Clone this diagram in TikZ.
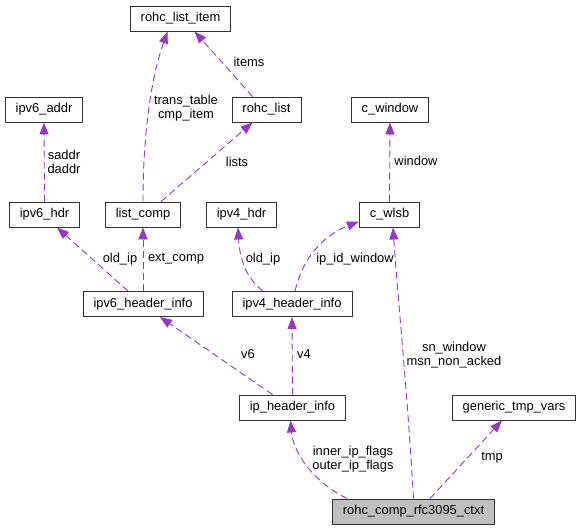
\documentclass[tikz,border=0pt]{standalone}
\usepackage{fontspec}
\setmainfont{Liberation Sans}
\usetikzlibrary{arrows.meta}
\definecolor{refpurple}{HTML}{9A32CD}
\definecolor{ctxgray}{HTML}{BFBFBF}

\tikzset{
  cls/.style={draw=black!80, line width=0.9pt, minimum height=25pt, inner xsep=10.5pt, inner ysep=2pt, font=\fontsize{12.9}{14}\selectfont},
  ref/.style={draw=refpurple, line width=0.9pt, dash pattern=on 7pt off 4pt, -{Triangle[length=12pt,width=9pt]}, fill=none},
  lbl/.style={font=\fontsize{12.9}{14}\selectfont, align=center, inner sep=0pt}
}

\begin{document}
\begin{tikzpicture}[x=1pt, y=-1pt]
    \useasboundingbox (0,0) rectangle (582,531);

    \node[cls] (rli) at (180.5,18.5) {rohc\_list\_item};
    \node[cls] (v6a) at (44,109.5) {ipv6\_addr};
    \node[cls] (rl) at (266.5,109.5) {rohc\_list};
    \node[cls] (cwin) at (390,109.5) {c\_window};
    \node[cls] (v6h) at (44.5,214.5) {ipv6\_hdr};
    \node[cls] (lc) at (143,214.5) {list\_comp};
    \node[cls] (v4h) at (241.5,214.5) {ipv4\_hdr};
    \node[cls] (cw) at (389.5,214.5) {c\_wlsb};
    \node[cls] (v6i) at (143,304) {ipv6\_header\_info};
    \node[cls] (v4i) at (292,304) {ipv4\_header\_info};
    \node[cls] (ihi) at (292.5,407.5) {ip\_header\_info};
    \node[cls] (gtv) at (514,407.5) {generic\_tmp\_vars};
    \node[cls, fill=ctxgray] (ctx) at (413.5,511.5) {rohc\_comp\_rfc3095\_ctxt};

    \draw[ref] (lc.north) .. controls (143,130) and (152,75) .. ([xshift=-13pt]rli.south)
        node[lbl] at (186,108) {trans\_table\\cmp\_item};
    \draw[ref] ([xshift=-14pt]rl.north) -- ([xshift=14pt]rli.south)
        node[lbl] at (249,62) {items};
    \draw[ref] ([xshift=18pt]lc.north) -- ([xshift=-14pt]rl.south)
        node[lbl] at (237,162) {lists};
    \draw[ref] (v6h.north) -- (v6a.south)
        node[lbl] at (64,162) {saddr\\daddr};
    \draw[ref] (cw.north) -- (cwin.south)
        node[lbl] at (416,161) {window};

    \draw[ref] ([xshift=-15pt]v6i.north) -- ([xshift=12.5pt]v6h.south)
        node[lbl] at (120,259) {old\_ip};
    \draw[ref] (v6i.north) -- (lc.south)
        node[lbl] at (176,259) {ext\_comp};
    \draw[ref] ([xshift=-29pt]v4i.north) .. controls (250,281) and (240,265) .. ([xshift=-3.5pt]v4h.south)
        node[lbl] at (263,259) {old\_ip};
    \draw[ref] ([xshift=3pt]v4i.north) .. controls (305,250) and (330,233) .. ([yshift=-7pt]cw.west)
        node[lbl] at (355,259) {ip\_id\_window};

    \draw[ref] ([xshift=-20pt]ihi.north) -- ([xshift=17pt]v6i.south)
        node[lbl] at (248,354) {v6};
    \draw[ref] (ihi.north) -- (v4i.south)
        node[lbl] at (304,354) {v4};

    \draw[ref] ([xshift=-66.5pt]ctx.north) .. controls (310,480) and (293,450) .. ([xshift=-2pt]ihi.south)
        node[lbl] at (353,459) {inner\_ip\_flags\\outer\_ip\_flags};
    \draw[ref] (ctx.north) .. controls (408,400) and (398,300) .. ([xshift=3.5pt]cw.south)
        node[lbl] at (454,355) {sn\_window\\msn\_non\_acked};
    \draw[ref] ([xshift=16.5pt]ctx.north) -- ([xshift=-12pt]gtv.south)
        node[lbl] at (492,458) {tmp};
\end{tikzpicture}
\end{document}
